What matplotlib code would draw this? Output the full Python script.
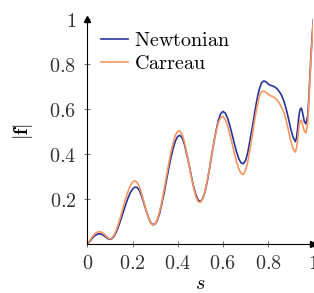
import numpy as np
import matplotlib
matplotlib.use("Agg")
import matplotlib.pyplot as plt

plt.rcParams['mathtext.fontset'] = 'cm'
plt.rcParams['font.family'] = 'serif'
plt.rcParams['font.serif'] = ['DejaVu Serif']

# arc position s and |f|
s = [0.0, 0.01, 0.02, 0.03, 0.04, 0.05, 0.06, 0.07, 0.08, 0.09,
     0.10, 0.11, 0.12, 0.13, 0.14, 0.15, 0.16, 0.17, 0.18, 0.19,
     0.20, 0.21, 0.22, 0.23, 0.24, 0.25, 0.26, 0.27, 0.28, 0.29,
     0.30, 0.31, 0.32, 0.33, 0.34, 0.35, 0.36, 0.37, 0.38, 0.39,
     0.40, 0.41, 0.42, 0.43, 0.44, 0.45, 0.46, 0.47, 0.48, 0.49,
     0.50, 0.51, 0.52, 0.53, 0.54, 0.55, 0.56, 0.57, 0.58, 0.59,
     0.60, 0.61, 0.62, 0.63, 0.64, 0.65, 0.66, 0.67, 0.68, 0.69,
     0.70, 0.71, 0.72, 0.73, 0.74, 0.75, 0.76, 0.77, 0.78, 0.79,
     0.80, 0.81, 0.82, 0.83, 0.84, 0.85, 0.86, 0.87, 0.88, 0.89,
     0.90, 0.91, 0.92, 0.925, 0.93, 0.935, 0.94, 0.946, 0.95, 0.955,
     0.96, 0.967, 0.975, 0.98, 0.985, 0.99, 0.995, 1.0]
newtonian = [0.0, 0.012, 0.025, 0.036, 0.043, 0.047, 0.046, 0.041, 0.034, 0.026,
             0.022, 0.026, 0.039, 0.059, 0.085, 0.115, 0.146, 0.177, 0.205, 0.229,
             0.245, 0.254, 0.253, 0.240, 0.215, 0.184, 0.150, 0.121, 0.097, 0.087,
             0.090, 0.107, 0.138, 0.182, 0.229, 0.283, 0.336, 0.385, 0.427, 0.460,
             0.479, 0.484, 0.472, 0.443, 0.399, 0.354, 0.304, 0.258, 0.221, 0.197,
             0.190, 0.202, 0.231, 0.276, 0.332, 0.393, 0.454, 0.506, 0.552, 0.580,
             0.590, 0.583, 0.562, 0.529, 0.490, 0.449, 0.411, 0.380, 0.362, 0.358,
             0.372, 0.408, 0.464, 0.519, 0.582, 0.640, 0.686, 0.716, 0.725, 0.722,
             0.712, 0.706, 0.703, 0.698, 0.690, 0.677, 0.660, 0.635, 0.600, 0.558,
             0.512, 0.476, 0.456, 0.470, 0.510, 0.560, 0.595, 0.605, 0.595, 0.570,
             0.545, 0.535, 0.570, 0.650, 0.750, 0.850, 0.930, 1.0]
carreau = [0.0, 0.015, 0.031, 0.043, 0.052, 0.056, 0.055, 0.049, 0.040, 0.030,
           0.024, 0.029, 0.044, 0.068, 0.098, 0.133, 0.169, 0.204, 0.234, 0.260,
           0.276, 0.282, 0.276, 0.257, 0.226, 0.190, 0.153, 0.121, 0.096, 0.086,
           0.091, 0.111, 0.146, 0.191, 0.244, 0.301, 0.357, 0.409, 0.451, 0.485,
           0.502, 0.503, 0.487, 0.453, 0.406, 0.353, 0.299, 0.252, 0.212, 0.190,
           0.186, 0.201, 0.233, 0.281, 0.334, 0.395, 0.451, 0.499, 0.541, 0.563,
           0.568, 0.555, 0.529, 0.491, 0.450, 0.406, 0.367, 0.335, 0.315, 0.310,
           0.327, 0.366, 0.425, 0.485, 0.551, 0.606, 0.654, 0.677, 0.680, 0.675,
           0.666, 0.660, 0.656, 0.650, 0.640, 0.626, 0.607, 0.585, 0.550, 0.505,
           0.458, 0.425, 0.410, 0.425, 0.460, 0.510, 0.545, 0.552, 0.540, 0.520,
           0.503, 0.495, 0.540, 0.630, 0.730, 0.830, 0.920, 1.0]

fig = plt.figure(figsize=(3.14, 2.93), dpi=100)
ax = fig.add_axes([0.278, 0.166, 0.72, 0.769])

ax.plot(s, newtonian, color='#28339a', lw=1.2, label=r'$\mathrm{Newtonian}$')
ax.plot(s, carreau, color='#f79560', lw=1.2, label=r'$\mathrm{Carreau}$')

ax.set_xlim(0, 1)
ax.set_ylim(0, 1)
ax.spines['top'].set_visible(False)
ax.spines['right'].set_visible(False)
ax.plot(1, 0, '>k', ms=4, transform=ax.transAxes, clip_on=False)
ax.plot(0, 1, '^k', ms=4, transform=ax.transAxes, clip_on=False)

ax.set_xticks([0, 0.2, 0.4, 0.6, 0.8, 1])
ax.set_xticklabels([r'$0$', r'$0.2$', r'$0.4$', r'$0.6$', r'$0.8$', r'$1$'])
ax.set_yticks([0.2, 0.4, 0.6, 0.8, 1])
ax.set_yticklabels([r'$0.2$', r'$0.4$', r'$0.6$', r'$0.8$', r'$1$'])
ax.tick_params(direction='inout', length=4, width=0.6, color='#555555',
               labelsize=14.5, labelcolor='#333333')
ax.tick_params(axis='x', pad=5)
ax.tick_params(axis='y', pad=6)

ax.set_xlabel(r'$s$', fontsize=14.5, labelpad=0.5)
ax.set_ylabel(r'$|\mathbf{f}|$', fontsize=14.5, labelpad=10)

ax.legend(loc='upper left', bbox_to_anchor=(0.0, 1.01), frameon=False,
          fontsize=14.5, handlelength=1.3, handletextpad=0.3,
          labelspacing=0.2, borderaxespad=0.3)

fig.savefig('out.png', dpi=100)
